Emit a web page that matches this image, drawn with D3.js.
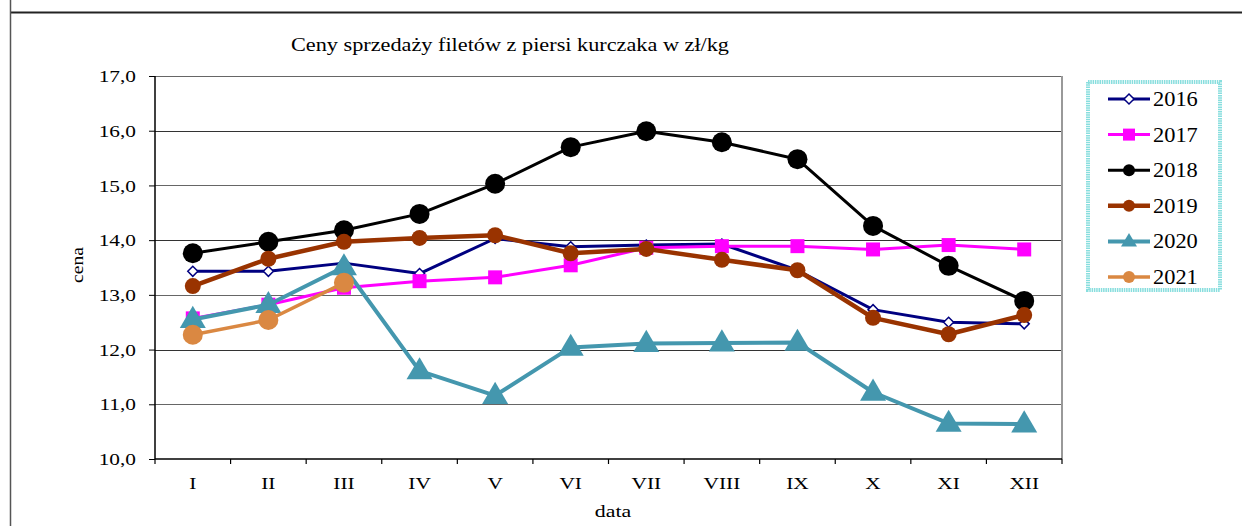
<!DOCTYPE html>
<html><head><meta charset="utf-8">
<script src="https://cdn.jsdelivr.net/npm/d3@7"></script>
<style>body{margin:0;background:#fff}svg{display:block}text{font-family:"Liberation Serif","Times New Roman",serif;fill:#000}</style>
</head><body>
<script>
const months = ["I","II","III","IV","V","VI","VII","VIII","IX","X","XI","XII"];
const years = ["2016","2017","2018","2019","2020","2021"];
const v2016 = [13.43,13.43,13.58,13.39,14.03,13.88,13.91,13.93,13.45,12.73,12.50,12.47];
const v2017 = [12.57,12.82,13.13,13.25,13.32,13.54,13.86,13.89,13.89,13.83,13.91,13.83];
const v2018 = [13.76,13.97,14.18,14.48,15.03,15.70,15.99,15.79,15.48,14.26,13.53,12.89];
const v2019 = [13.16,13.66,13.97,14.04,14.09,13.76,13.84,13.64,13.45,12.58,12.28,12.63];
const v2020 = [12.55,12.82,13.51,11.61,11.16,12.04,12.11,12.12,12.13,11.22,10.65,10.64];
const v2021 = [12.27,12.54,13.22];
const yTicks = [10,11,12,13,14,15,16,17];
const title = "Ceny sprzedaży filetów z piersi kurczaka w zł/kg";

const W=1242,H=526;
const m={l:155,r:1062,t:76,b:459};
const SX=1.22; // horizontal stretch of the reference's text
const svg=d3.select("body").append("svg").attr("width",W).attr("height",H);

// outer frame
svg.append("line").attr("x1",10).attr("x2",W).attr("y1",12.5).attr("y2",12.5).attr("stroke","#222").attr("stroke-width",2);
svg.append("line").attr("x1",10.5).attr("x2",10.5).attr("y1",0).attr("y2",H).attr("stroke","#555").attr("stroke-width",1.5);

const x=d3.scaleBand().domain(months).range([m.l,m.r]);
const y=d3.scaleLinear().domain([10,17]).range([m.b,m.t]);

// gridlines
svg.append("g").selectAll("line").data(yTicks.filter(d=>d>10)).join("line")
 .attr("x1",m.l).attr("x2",m.r).attr("y1",d=>Math.round(y(d))+0.5).attr("y2",d=>Math.round(y(d))+0.5)
 .attr("stroke",(d,i)=>i%2? "#333":"#666").attr("stroke-width",1.2);
// right border
svg.append("line").attr("x1",m.r).attr("x2",m.r).attr("y1",m.t).attr("y2",m.b).attr("stroke","#999").attr("stroke-width",2);

// y axis
const ya=svg.append("g").attr("transform",`translate(${m.l},0)`)
 .call(d3.axisLeft(y).tickValues(yTicks).tickSize(6).tickPadding(0).tickFormat(d=>d3.format(".1f")(d).replace(".",",")));
ya.select(".domain").attr("stroke","#000").attr("stroke-width",1.5).attr("d",`M0,${m.t}V${m.b}`);
ya.selectAll(".tick line").attr("stroke","#000");
ya.selectAll("text").attr("x",0).attr("transform",`translate(-19,0) scale(${SX},1)`)
 .style("font-size","17.5px").style("font-family","'Liberation Serif',serif").attr("fill","#000");

// x axis
const xa=svg.append("g").attr("transform",`translate(0,${m.b})`)
 .call(d3.axisBottom(x).tickSize(0).tickPadding(0));
xa.select(".domain").attr("stroke","#000").attr("stroke-width",1.5).attr("d",`M${m.l},0H${m.r}`);
xa.selectAll("text").attr("y",0).attr("dy","0").attr("transform",`translate(0,30) scale(${SX},1)`)
 .style("font-size","17.5px").style("font-family","'Liberation Serif',serif").attr("fill","#000");
// category boundary ticks
svg.append("g").selectAll("line").data(months.map((d,i)=>i).concat([12])).join("line")
 .attr("x1",i=>m.l+i*x.step()).attr("x2",i=>m.l+i*x.step()).attr("y1",m.b).attr("y2",m.b+5).attr("stroke","#000").attr("stroke-width",1.2);

// titles
svg.append("text").attr("x",291).attr("y",51).style("font-size","18px")
 .attr("textLength",438).attr("lengthAdjust","spacingAndGlyphs").text(title);
svg.append("text").attr("transform",`translate(83,265) rotate(-90) scale(1.12,1)`).attr("text-anchor","middle").style("font-size","17.5px").text("cena");
svg.append("text").attr("transform",`translate(613,517) scale(1.25,1)`).attr("text-anchor","middle").style("font-size","17.5px").text("data");

const series=[
 {name:years[0],vals:v2016,color:"#000080",lw:3,marker:"diamond",size:10,fill:"#fff",mstroke:"#000080"},
 {name:years[1],vals:v2017,color:"#FF00FF",lw:3,marker:"square",size:14,fill:"#FF00FF",mstroke:"#FF00FF"},
 {name:years[2],vals:v2018,color:"#000000",lw:3,marker:"circle",size:20,fill:"#000",mstroke:"#000"},
 {name:years[3],vals:v2019,color:"#993300",lw:4.5,marker:"circle",size:16,fill:"#993300",mstroke:"#993300"},
 {name:years[4],vals:v2020,color:"#4497AE",lw:4,marker:"triangle",size:26,fill:"#4497AE",mstroke:"#4497AE"},
 {name:years[5],vals:v2021,color:"#DA8842",lw:3.5,marker:"circle",size:20,fill:"#DA8842",mstroke:"#DA8842"}
];

function markerPath(type,s){
 const h=s/2;
 if(type==="diamond") return `M0,${-h}L${h},0L0,${h}L${-h},0Z`;
 if(type==="square") return `M${-h},${-h}H${h}V${h}H${-h}Z`;
 if(type==="triangle"){const th=s*0.85; return `M0,${-th*0.62}L${h},${th*0.38}L${-h},${th*0.38}Z`;}
 return d3.symbol(d3.symbolCircle, Math.PI*h*h)();
}

const cx=i=>x(months[i])+x.bandwidth()/2;
const line=d3.line().x((d,i)=>cx(i)).y(d=>y(d));
series.forEach(s=>{
 const g=svg.append("g");
 g.append("path").attr("d",line(s.vals)).attr("fill","none").attr("stroke",s.color).attr("stroke-width",s.lw).attr("stroke-linejoin","round");
 g.selectAll("path.m").data(s.vals).join("path").attr("class","m")
  .attr("transform",(d,i)=>`translate(${cx(i)},${y(d)})`)
  .attr("d",markerPath(s.marker,s.size)).attr("fill",s.fill).attr("stroke",s.mstroke).attr("stroke-width",s.marker==="diamond"?1.5:0);
});

// legend
const lg=svg.append("g");
lg.append("rect").attr("x",1088).attr("y",82).attr("width",132).attr("height",208).attr("fill","#fff")
 .attr("stroke","#88DEDE").attr("stroke-width",4).attr("stroke-dasharray","1.5,0.8");
series.forEach((s,i)=>{
 const yy=99+i*35.6;
 lg.append("line").attr("x1",1108).attr("x2",1150).attr("y1",yy).attr("y2",yy).attr("stroke",s.color).attr("stroke-width",s.lw);
 lg.append("path").attr("transform",`translate(1129,${yy})`).attr("d",markerPath(s.marker,s.marker==="diamond"?10:(s.marker==="triangle"?16:12)))
  .attr("fill",s.fill).attr("stroke",s.mstroke).attr("stroke-width",s.marker==="diamond"?1.5:0);
 lg.append("text").attr("transform",`translate(1153,${yy+7}) scale(1.12,1)`).style("font-size","20px").text(s.name);
});
</script>
</body></html>
